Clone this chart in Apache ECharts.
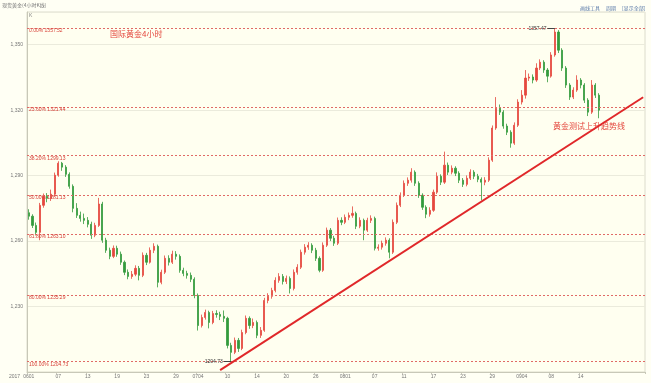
<!DOCTYPE html>
<html><head><meta charset="utf-8">
<script src="https://cdn.jsdelivr.net/npm/echarts/dist/echarts.min.js"></script>
<style>html,body{margin:0;padding:0;background:#fffff4}#c{width:651px;height:383px}</style>
</head><body><div id="c"></div>
<script>
const tradingDays = [
'06/01','06/02','06/05','06/06','06/07','06/08','06/09','06/12','06/13','06/14','06/15','06/16','06/19','06/20','06/21','06/22','06/23','06/26','06/27','06/28','06/29','06/30',
'07/03','07/04','07/05','07/06','07/07','07/10','07/11','07/12','07/13','07/14','07/17','07/18','07/19','07/20','07/21','07/24','07/25','07/26','07/27','07/28','07/31',
'08/01','08/02','08/03','08/04','08/07','08/08','08/09','08/10','08/11','08/14','08/15','08/16','08/17','08/18','08/21','08/22','08/23','08/24','08/25','08/28','08/29','08/30','08/31',
'09/01','09/04','09/05','09/06','09/07','09/08','09/11','09/12','09/13','09/14','09/15','09/18','09/19','09/20','09/21','09/22','09/25','09/26'];

// [open, close, low, high], two per trading day
const candles = [
[1273.0,1271.4,1269.8,1274.6],[1271.4,1267.2,1266.0,1272.3],[1267.2,1264.0,1262.6,1268.5],[1264.0,1276.4,1260.4,1277.5],
[1276.4,1280.5,1275.3,1281.8],[1280.5,1279.6,1277.8,1282.0],[1279.6,1281.5,1278.4,1283.6],[1281.5,1290.2,1280.6,1291.4],
[1290.2,1295.7,1289.5,1296.6],[1295.7,1293.9,1292.2,1296.3],[1293.9,1290.6,1289.4,1294.8],[1290.6,1285.1,1284.0,1291.5],
[1285.1,1275.0,1273.2,1286.0],[1275.0,1271.8,1270.6,1277.4],[1271.8,1270.4,1268.9,1273.5],[1270.4,1269.5,1267.8,1272.6],
[1269.5,1267.7,1266.3,1271.0],[1267.7,1262.7,1261.0,1268.9],[1262.7,1267.2,1261.8,1268.4],[1267.2,1277.0,1266.5,1279.8],
[1277.0,1260.4,1259.2,1278.0],[1260.4,1255.8,1254.6,1261.5],[1255.8,1253.0,1251.7,1257.0],[1253.0,1256.7,1252.2,1258.0],
[1256.7,1254.0,1252.8,1257.9],[1254.0,1250.3,1249.1,1255.2],[1250.3,1245.7,1244.4,1251.1],[1245.7,1243.8,1242.5,1247.0],
[1243.8,1244.8,1242.7,1246.3],[1244.8,1247.5,1243.9,1248.9],[1247.5,1244.3,1242.0,1248.6],[1244.3,1253.5,1243.5,1254.8],
[1253.5,1250.3,1249.0,1254.6],[1250.3,1255.8,1249.7,1257.1],[1255.8,1257.6,1254.5,1259.0],[1257.6,1241.1,1238.8,1258.4],
[1241.1,1245.7,1240.2,1246.9],[1245.7,1252.1,1244.9,1253.4],[1252.1,1250.3,1248.8,1253.5],[1250.3,1254.0,1249.5,1255.6],
[1254.0,1253.0,1251.5,1255.4],[1253.0,1246.6,1245.5,1253.9],[1246.6,1245.2,1243.9,1247.8],[1245.2,1244.3,1242.8,1246.4],
[1244.3,1242.5,1241.2,1245.6],[1242.5,1235.1,1233.8,1243.4],[1235.1,1221.3,1219.0,1236.0],[1221.3,1225.0,1220.4,1226.3],
[1225.0,1227.3,1224.0,1228.6],[1227.3,1222.7,1220.0,1228.1],[1222.7,1226.8,1221.9,1228.0],[1226.8,1226.4,1224.9,1228.3],
[1226.4,1225.5,1223.8,1227.6],[1225.5,1224.6,1222.9,1228.2],[1224.6,1212.2,1210.8,1225.3],[1212.2,1209.0,1204.73,1213.4],
[1209.0,1214.5,1208.2,1215.8],[1214.5,1210.8,1209.2,1215.6],[1210.8,1218.1,1210.0,1219.4],[1218.1,1224.6,1217.3,1225.9],
[1224.6,1221.3,1219.8,1225.5],[1221.3,1222.7,1220.1,1224.5],[1222.7,1216.8,1215.5,1223.6],[1216.8,1219.1,1215.6,1220.6],
[1219.1,1232.8,1218.4,1234.0],[1232.8,1234.7,1231.5,1236.1],[1234.7,1237.4,1233.6,1238.6],[1237.4,1242.0,1236.5,1243.4],
[1242.0,1243.8,1240.9,1245.3],[1243.8,1241.5,1240.1,1244.9],[1241.5,1242.9,1240.3,1244.2],[1242.9,1238.3,1236.0,1243.8],
[1238.3,1245.7,1237.4,1247.0],[1245.7,1248.0,1244.6,1249.4],[1248.0,1254.9,1247.2,1256.1],[1254.9,1257.2,1253.8,1258.6],
[1257.2,1258.1,1256.0,1259.5],[1258.1,1255.8,1254.5,1259.0],[1255.8,1252.1,1250.9,1256.9],[1252.1,1246.6,1245.7,1253.0],
[1246.6,1258.1,1245.9,1259.4],[1258.1,1265.0,1257.3,1266.2],[1265.0,1261.3,1260.0,1266.0],[1261.3,1259.0,1257.8,1262.4],
[1259.0,1269.5,1258.2,1270.8],[1269.5,1268.6,1267.3,1270.9],[1268.6,1270.9,1267.8,1272.2],[1270.9,1271.8,1269.6,1273.1],
[1271.8,1272.7,1270.7,1275.9],[1272.7,1266.8,1265.5,1273.5],[1266.8,1269.5,1265.9,1270.9],[1269.5,1265.0,1260.4,1270.3],
[1265.0,1269.5,1264.2,1270.7],[1269.5,1270.4,1268.3,1271.8],[1270.4,1256.7,1255.7,1271.2],[1256.7,1257.2,1255.6,1258.5],
[1257.2,1259.0,1256.1,1260.2],[1259.0,1260.4,1257.9,1261.7],[1260.4,1254.9,1252.1,1261.3],[1254.9,1268.6,1254.1,1269.9],
[1268.6,1276.4,1267.8,1277.7],[1276.4,1281.0,1275.6,1282.3],[1281.0,1286.5,1280.2,1287.8],[1286.5,1287.9,1285.3,1289.2],
[1287.9,1291.6,1286.8,1293.4],[1291.6,1286.5,1285.3,1292.4],[1286.5,1281.0,1279.8,1287.4],[1281.0,1275.5,1274.3,1281.9],
[1275.5,1272.3,1270.5,1276.4],[1272.3,1274.1,1271.2,1275.5],[1274.1,1282.4,1273.4,1283.6],[1282.4,1289.7,1281.6,1291.5],
[1289.7,1287.0,1285.7,1290.6],[1287.0,1294.8,1286.2,1301.0],[1294.8,1291.6,1290.3,1296.0],[1291.6,1293.4,1290.6,1294.7],
[1293.4,1291.1,1289.8,1294.3],[1291.1,1287.9,1286.6,1292.0],[1287.9,1286.0,1284.8,1288.9],[1286.0,1288.8,1285.1,1290.1],
[1288.8,1291.6,1288.0,1292.9],[1291.6,1289.7,1288.4,1292.5],[1289.7,1288.3,1287.0,1290.8],[1288.3,1287.0,1278.7,1289.2],
[1287.0,1287.9,1285.6,1289.3],[1287.9,1297.1,1287.1,1298.4],[1297.1,1311.8,1296.3,1313.0],[1311.8,1320.9,1311.0,1326.0],
[1320.9,1319.1,1317.8,1322.6],[1319.1,1312.7,1311.5,1320.0],[1312.7,1309.9,1308.6,1313.8],[1309.9,1304.9,1302.8,1310.8],
[1304.9,1313.1,1304.1,1314.4],[1313.1,1323.7,1312.3,1325.0],[1323.7,1326.9,1322.6,1329.2],[1326.9,1334.7,1325.3,1338.4],
[1334.7,1335.2,1333.4,1336.8],[1335.2,1333.8,1332.3,1336.4],[1333.8,1339.3,1333.0,1341.5],[1339.3,1342.0,1338.4,1343.3],
[1342.0,1338.4,1337.1,1342.9],[1338.4,1335.6,1332.8,1339.3],[1335.6,1345.3,1334.9,1346.6],[1345.3,1355.8,1344.5,1357.47],
[1355.8,1347.5,1346.2,1356.7],[1347.5,1339.3,1338.0,1348.4],[1339.3,1331.5,1330.2,1340.2],[1331.5,1326.0,1324.7,1332.4],
[1326.0,1329.2,1325.1,1330.5],[1329.2,1333.8,1328.4,1336.0],[1333.8,1331.5,1330.0,1334.7],[1331.5,1324.6,1323.3,1332.4],
[1324.6,1319.1,1317.3,1325.5],[1319.1,1331.5,1318.3,1333.8],[1331.5,1326.9,1325.6,1332.4],[1326.9,1320.0,1316.3,1327.8]
];

const xTickLabels = {
'06/01':'0601','06/07':'07','06/13':'13','06/19':'19','06/23':'23','06/29':'29',
'07/04':'0704','07/10':'10','07/14':'14','07/20':'20','07/26':'26',
'08/01':'0801','08/07':'07','08/11':'11','08/17':'17','08/23':'23','08/29':'29',
'09/04':'0904','09/08':'08','09/14':'14'};

const fibRatios = ['0.00%','23.60%','38.20%','50.00%','61.80%','80.00%','100.00%'];
const fibValues = [1357.52,1321.44,1299.13,1281.13,1263.10,1235.29,1204.73];

const highPoint = {idx:143, value:1357.47};
const lowPoint = {idx:55, value:1204.73};
const trendStart = {idx:52, value:1200.85};
const trendEnd = {idx:167, value:1325.93};

const categories = [];
tradingDays.forEach(d => { categories.push(d + ' a'); categories.push(d + ' b'); });

const red = '#e5483e', green = '#349b3c';
const fibColor = '#e06a66';

const markData = fibValues.map((v, i) => ({
  yAxis: v,
  lineStyle: {color: fibColor, type: [2, 2], width: 1},
  label: {show: true, position: 'insideStartBottom', distance: [2, 0], formatter: fibRatios[i] + ' ' + v.toFixed(2),
           color: '#d8433a', fontSize: 5, fontFamily: 'Liberation Sans'}
}));
markData.push([
  {coord: [categories[trendStart.idx], trendStart.value], lineStyle: {color: '#e0282a', width: 2, type: 'solid'}, label: {show: false}},
  {coord: [categories[trendEnd.idx], trendEnd.value]}
]);
markData.push([
  {coord: [categories[highPoint.idx - 2], highPoint.value], lineStyle: {color: '#444', width: 1, type: 'solid'},
   label: {show: true, position: 'start', distance: 1, formatter: highPoint.value.toFixed(2), color: '#333', fontSize: 5, fontFamily: 'Liberation Sans'}},
  {coord: [categories[highPoint.idx], highPoint.value]}
]);
markData.push([
  {coord: [categories[lowPoint.idx - 2], lowPoint.value], lineStyle: {color: '#444', width: 1, type: 'solid'},
   label: {show: true, position: 'start', distance: 1, formatter: lowPoint.value.toFixed(2), color: '#333', fontSize: 5, fontFamily: 'Liberation Sans'}},
  {coord: [categories[lowPoint.idx], lowPoint.value]}
]);

const chart = echarts.init(document.getElementById('c'), null, {renderer: 'canvas'});
chart.setOption({
  animation: false,
  backgroundColor: '#fffff4',
  grid: {left: 27, right: 6, top: 12, bottom: 11, show: true, borderColor: '#dcdccc', borderWidth: 1, backgroundColor: '#fffff0'},
  xAxis: {
    type: 'category', data: categories, boundaryGap: true,
    axisLine: {lineStyle: {color: '#c8c8b8'}},
    axisTick: {show: true, length: 2, lineStyle: {color: '#c8c8b8'},
      interval: (i, v) => v.endsWith(' a') && xTickLabels[v.slice(0, 5)] !== undefined},
    axisLabel: {
      color: '#777', fontSize: 5, margin: 2, fontFamily: 'Liberation Sans',
      interval: (i, v) => v.endsWith(' a') && xTickLabels[v.slice(0, 5)] !== undefined,
      formatter: v => xTickLabels[v.slice(0, 5)] || ''
    },
    splitLine: {show: false}
  },
  yAxis: {
    type: 'value', min: 1200, max: 1365, interval: 30,
    axisLine: {show: true, lineStyle: {color: '#c8c8b8'}},
    axisTick: {show: false},
    axisLabel: {color: '#777', fontSize: 5, margin: 4, showMinLabel: false, showMaxLabel: false, fontFamily: 'Liberation Sans'},
    splitLine: {show: true, lineStyle: {color: '#ebebdc', width: 1}}
  },
  series: [{
    type: 'candlestick',
    data: candles,
    barWidth: '45%',
    itemStyle: {color: red, color0: green, borderColor: red, borderColor0: green, borderWidth: 0.8},
    markLine: {silent: true, symbol: ['none', 'none'], animation: false, data: markData}
  }],
  graphic: [
    {type: 'text', left: 2, top: 3, style: {text: '现货黄金(4小时K线)', fill: '#777', fontSize: 5, fontFamily: 'Noto Sans CJK SC'}},
    {type: 'text', left: 29, top: 13, style: {text: 'K', fill: '#888', fontSize: 5, fontFamily: 'Liberation Sans'}},
    {type: 'text', left: 580, top: 6, style: {text: '画线工具', fill: '#5a7aa8', fontSize: 5, fontFamily: 'Noto Sans CJK SC'}},
    {type: 'text', left: 606, top: 6, style: {text: '周期', fill: '#5a7aa8', fontSize: 5, fontFamily: 'Noto Sans CJK SC'}},
    {type: 'text', left: 622, top: 6, style: {text: '[显示全部]', fill: '#5a7aa8', fontSize: 5, fontFamily: 'Noto Sans CJK SC'}},
    {type: 'text', left: 9, top: 374, style: {text: '2017', fill: '#777', fontSize: 5, fontFamily: 'Liberation Sans'}},
    {type: 'text', left: 110, top: 30, style: {text: '国际黄金4小时', fill: '#e4463c', fontSize: 8, fontFamily: 'Noto Sans CJK SC'}},
    {type: 'text', left: 553, top: 122, style: {text: '黄金测试上升趋势线', fill: '#e4463c', fontSize: 8, fontFamily: 'Noto Sans CJK SC'}}
  ]
});
</script></body></html>
